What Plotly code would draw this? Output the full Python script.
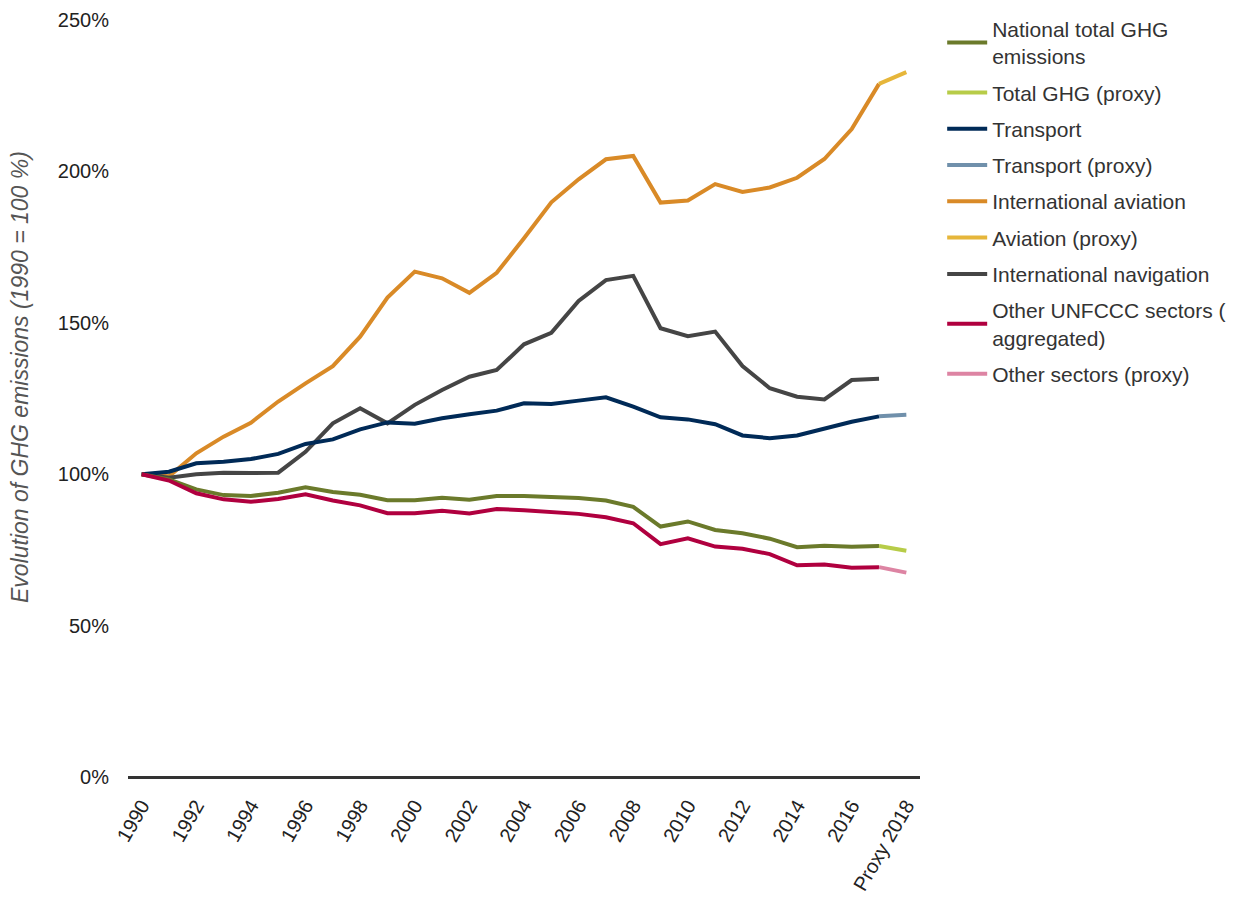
import plotly.graph_objects as go

categories = [str(y) for y in range(1990, 2018)] + ["Proxy 2018"]

national_total = [100, 98.3, 95.0, 93.1, 92.8, 93.9, 95.7, 94.1, 93.2, 91.4, 91.4, 92.2, 91.6, 92.8,
                  92.8, 92.4, 92.1, 91.3, 89.2, 82.7, 84.4, 81.6, 80.5, 78.7, 75.9, 76.4, 76.0, 76.3, None]
total_proxy = [None] * 27 + [76.3, 74.7]

transport = [100, 100.8, 103.6, 104.1, 105.0, 106.7, 110.0, 111.5, 114.8, 117.1, 116.7, 118.5, 119.8, 121.0,
             123.4, 123.2, 124.3, 125.4, 122.3, 118.8, 118.1, 116.5, 112.8, 111.9, 112.8, 115.0, 117.3, 119.1, None]
transport_proxy = [None] * 27 + [119.1, 119.6]

aviation = [100, 99.3, 106.9, 112.4, 117.0, 124.0, 130.0, 135.7, 145.4, 158.3, 166.9, 164.7, 159.9, 166.5,
            177.9, 189.8, 197.4, 204.0, 205.1, 189.7, 190.4, 195.8, 193.2, 194.7, 197.9, 204.1, 214.0, 228.9, None]
aviation_proxy = [None] * 27 + [228.9, 232.8]

navigation = [100, 98.8, 100.0, 100.5, 100.4, 100.5, 107.4, 116.8, 121.8, 116.8, 122.9, 127.8, 132.2, 134.4,
              142.9, 146.7, 157.2, 164.1, 165.5, 148.2, 145.6, 147.1, 135.7, 128.4, 125.6, 124.7, 131.1, 131.5, None]

other_sectors = [100, 97.9, 93.7, 91.7, 90.9, 91.8, 93.4, 91.3, 89.7, 87.1, 87.1, 87.9, 87.0, 88.5,
                 88.1, 87.4, 86.9, 85.8, 83.8, 76.9, 78.8, 76.1, 75.4, 73.6, 69.9, 70.2, 69.1, 69.3, None]
other_proxy = [None] * 27 + [69.3, 67.5]

y_ticks = [0, 50, 100, 150, 200, 250]
y_tick_labels = ["0%", "50%", "100%", "150%", "200%", "250%"]

y_title = "Evolution of GHG emissions (1990 = 100 %)"

series = [
    ("National total GHG<br>emissions", national_total, "#6b7a2b"),
    ("Total GHG (proxy)", total_proxy, "#b7cc48"),
    ("Transport", transport, "#002a57"),
    ("Transport (proxy)", transport_proxy, "#7090ab"),
    ("International aviation", aviation, "#d98a27"),
    ("Aviation (proxy)", aviation_proxy, "#e6b63a"),
    ("International navigation", navigation, "#454545"),
    ("Other UNFCCC sectors (<br>aggregated)", other_sectors, "#b0003f"),
    ("Other sectors (proxy)", other_proxy, "#dd84a3"),
]

# draw order: aviation & navigation beneath the others
draw_order = [4, 5, 6, 2, 3, 0, 1, 7, 8]

fig = go.Figure()
for i in draw_order:
    name, vals, col = series[i]
    fig.add_trace(go.Scatter(
        x=categories, y=vals, name=name, mode="lines",
        line=dict(color=col, width=4), connectgaps=False,
        legendrank=i + 1, legendgroup="g%d" % i,
    ))

font_family = "Liberation Sans, Arial, sans-serif"
fig.update_layout(
    width=1255, height=903,
    margin=dict(l=120, r=343, t=12, b=134, autoexpand=False),
    paper_bgcolor="white", plot_bgcolor="white",
    font=dict(family=font_family, size=20, color="#222222"),
    showlegend=True,
    legend=dict(
        x=1.028, y=1.015, xanchor="left", yanchor="top",
        font=dict(size=21, color="#333333"),
        tracegroupgap=6, itemwidth=40,
        bgcolor="rgba(0,0,0,0)",
    ),
    xaxis=dict(
        type="category", categoryorder="array", categoryarray=categories,
        range=[-0.5, 28.5], tickmode="array",
        tickvals=categories[::2], ticktext=categories[::2],
        tickangle=-60, showgrid=False, zeroline=False, automargin=False,
        showline=False, ticks="", ticklabelstandoff=12,
        tickfont=dict(size=20, color="#222222"),
    ),
    yaxis=dict(
        range=[0, 250], tickmode="array", tickvals=y_ticks, ticktext=y_tick_labels,
        showgrid=False, zeroline=True, zerolinecolor="#333333", zerolinewidth=3,
        showline=False, ticks="", ticklen=0, automargin=False, ticklabelstandoff=18,
        tickfont=dict(size=20, color="#222222"),
    ),
    annotations=[dict(
        text=y_title, xref="paper", yref="paper",
        x=(20 - 128) / 792, y=(777 - 377) / 757,
        xanchor="center", yanchor="middle", textangle=-90, showarrow=False,
        font=dict(size=23, color="#555555", style="italic", family=font_family),
    )],
)

fig.write_html("out.html")
